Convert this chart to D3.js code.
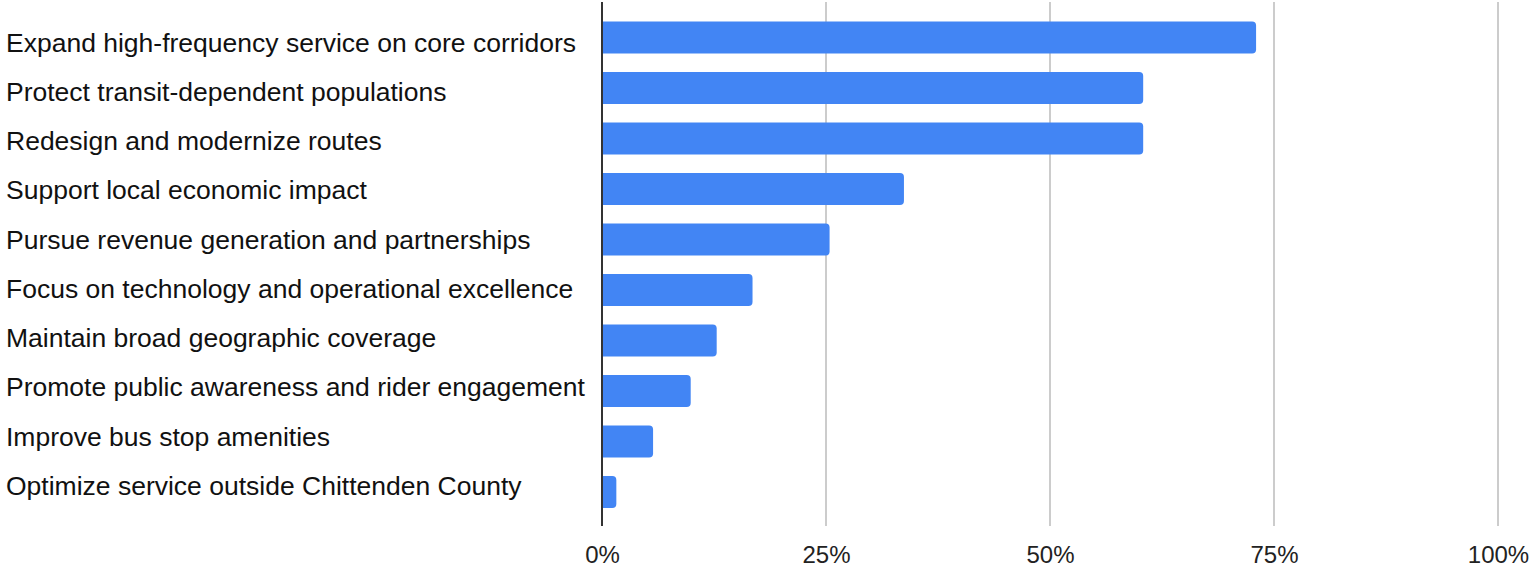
<!DOCTYPE html>
<html>
<head>
<meta charset="utf-8">
<script src="https://cdn.jsdelivr.net/npm/d3@7"></script>
<style>
  html, body { margin: 0; padding: 0; background: #fff; }
  svg { display: block; font-family: "Liberation Sans", Arial, sans-serif; }
</style>
</head>
<body>
<svg id="chart" width="1530" height="567"></svg>
<script>
// Share of respondents choosing each priority (percent)
const categories = [
  "Expand high-frequency service on core corridors",
  "Protect transit-dependent populations",
  "Redesign and modernize routes",
  "Support local economic impact",
  "Pursue revenue generation and partnerships",
  "Focus on technology and operational excellence",
  "Maintain broad geographic coverage",
  "Promote public awareness and rider engagement",
  "Improve bus stop amenities",
  "Optimize service outside Chittenden County"
];
const values = [73.0, 60.4, 60.4, 33.7, 25.4, 16.8, 12.8, 9.9, 5.7, 1.6];
const tickValues = [0, 25, 50, 75, 100];
const tickLabels = ["0%", "25%", "50%", "75%", "100%"];

const svg = d3.select("#chart");
const plot = { left: 602, right: 1498, top: 2, bottom: 526 };

const x = d3.scaleLinear().domain([0, 100]).range([plot.left, plot.right]);
const y = d3.scaleBand()
  .domain(categories)
  .range([12.25, 517.25])
  .paddingInner(0.366)
  .paddingOuter(0.183);
// label baselines run on a slightly tighter pitch than the bars
const yLabel = d3.scalePoint()
  .domain(categories)
  .range([51.7, 495]);

// vertical gridlines
svg.append("g")
  .selectAll("line")
  .data(tickValues.filter(d => d > 0))
  .join("line")
  .attr("x1", d => x(d)).attr("x2", d => x(d))
  .attr("y1", plot.top).attr("y2", plot.bottom)
  .attr("stroke", "#cccccc")
  .attr("stroke-width", 2);

// bars: square at the baseline, rounded at the value end
const r = 4;
const bw = y.bandwidth();
function barPath(d, i) {
  const x0 = x(0), x1 = x(d), y0 = y(categories[i]), h = bw;
  const rr = Math.min(r, (x1 - x0) / 2);
  return `M${x0},${y0}H${x1 - rr}Q${x1},${y0} ${x1},${y0 + rr}` +
         `V${y0 + h - rr}Q${x1},${y0 + h} ${x1 - rr},${y0 + h}H${x0}Z`;
}
svg.append("g")
  .selectAll("path")
  .data(values)
  .join("path")
  .attr("d", barPath)
  .attr("fill", "#4285f4");

// baseline axis
svg.append("line")
  .attr("x1", x(0)).attr("x2", x(0))
  .attr("y1", plot.top).attr("y2", plot.bottom)
  .attr("stroke", "#333333")
  .attr("stroke-width", 2);

// category labels
svg.append("g")
  .selectAll("text")
  .data(categories)
  .join("text")
  .attr("x", 6)
  .attr("y", d => yLabel(d))
  .attr("font-size", 26.5)
  .attr("fill", "#111111")
  .text(d => d);

// x tick labels
const xAxis = d3.axisBottom(x)
  .tickValues(tickValues)
  .tickFormat((d, i) => tickLabels[i])
  .tickSize(0)
  .tickPadding(0);
const gx = svg.append("g")
  .attr("transform", "translate(0, 563)")
  .call(xAxis);
gx.select(".domain").remove();
gx.selectAll("text")
  .attr("y", 0)
  .attr("dy", null)
  .attr("font-size", 24)
  .attr("font-family", "Liberation Sans, Arial, sans-serif")
  .attr("fill", "#222222");
</script>
</body>
</html>
